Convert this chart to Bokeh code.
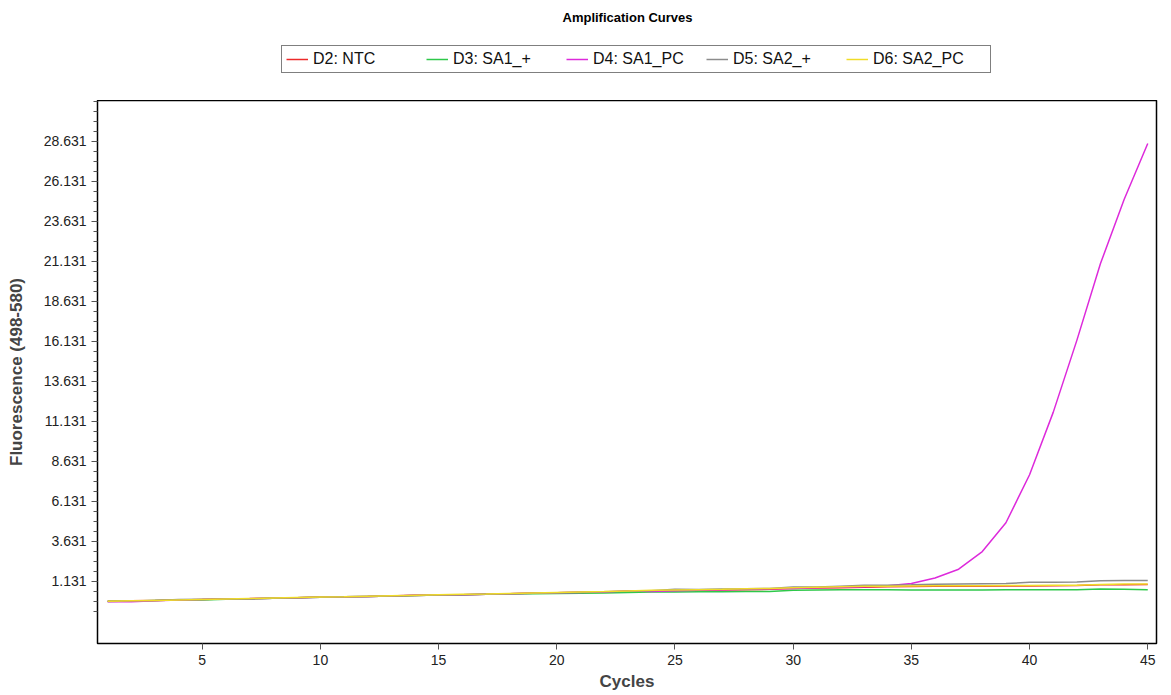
from bokeh.plotting import figure
from bokeh.layouts import column
from bokeh.models import Legend, LegendItem, FixedTicker, PrintfTickFormatter, Range1d, Label
from bokeh.embed import file_html
from bokeh.resources import INLINE

cycles = list(range(1, 46))

ntc = [-0.10, -0.08, -0.05, -0.02, 0.01, 0.03, 0.06, 0.09, 0.12, 0.16, 0.18, 0.20, 0.23, 0.26, 0.28,
       0.31, 0.34, 0.37, 0.41, 0.43, 0.46, 0.48, 0.51, 0.54, 0.56, 0.58, 0.60, 0.62, 0.64, 0.70,
       0.72, 0.74, 0.77, 0.80, 0.82, 0.83, 0.84, 0.84, 0.85, 0.85, 0.86, 0.88, 0.92, 0.93, 0.94]
sa1_pos = [-0.12, -0.09, -0.06, -0.03, -0.02, 0.02, 0.05, 0.08, 0.11, 0.14, 0.17, 0.20, 0.22, 0.25, 0.28,
           0.30, 0.33, 0.35, 0.37, 0.38, 0.39, 0.41, 0.45, 0.47, 0.48, 0.49, 0.49, 0.50, 0.51, 0.58,
           0.60, 0.61, 0.62, 0.62, 0.60, 0.60, 0.60, 0.60, 0.61, 0.61, 0.61, 0.62, 0.66, 0.65, 0.62]
sa1_pc = [-0.13, -0.14, -0.08, -0.03, 0.00, 0.06, 0.07, 0.09, 0.12, 0.15, 0.17, 0.20, 0.23, 0.28, 0.29,
          0.31, 0.34, 0.37, 0.39, 0.42, 0.45, 0.48, 0.55, 0.50, 0.55, 0.58, 0.61, 0.64, 0.67, 0.70,
          0.74, 0.77, 0.80, 0.86, 1.00, 1.35, 1.90, 3.00, 4.80, 7.80, 11.70, 16.20, 21.00, 25.00, 28.50]
sa2_pos = [-0.11, -0.08, -0.05, 0.00, 0.02, 0.03, 0.04, 0.08, 0.11, 0.14, 0.17, 0.20, 0.23, 0.26, 0.29,
           0.31, 0.34, 0.37, 0.40, 0.43, 0.46, 0.49, 0.52, 0.55, 0.64, 0.63, 0.66, 0.67, 0.70, 0.78,
           0.79, 0.84, 0.89, 0.90, 0.92, 0.96, 0.98, 0.99, 1.00, 1.08, 1.09, 1.10, 1.18, 1.19, 1.20]
sa2_pc = [-0.11, -0.08, -0.05, -0.02, 0.01, 0.04, 0.07, 0.10, 0.13, 0.16, 0.18, 0.21, 0.24, 0.27, 0.30,
          0.33, 0.35, 0.38, 0.41, 0.44, 0.47, 0.50, 0.54, 0.58, 0.60, 0.62, 0.64, 0.67, 0.70, 0.74,
          0.77, 0.80, 0.83, 0.84, 0.85, 0.86, 0.87, 0.87, 0.88, 0.88, 0.89, 0.90, 0.95, 0.97, 0.98]

series_names = ["D2: NTC", "D3: SA1_+", "D4: SA1_PC", "D5: SA2_+", "D6: SA2_PC"]
series_values = [ntc, sa1_pos, sa1_pc, sa2_pos, sa2_pc]
series_colors = ["#ec2a2a", "#2ec84a", "#dd2adb", "#8c8c8c", "#f0dc28"]

y_ticks = [1.131, 3.631, 6.131, 8.631, 11.131, 13.631, 16.131, 18.631, 21.131, 23.631, 26.131, 28.631]
x_ticks = [5, 10, 15, 20, 25, 30, 35, 40, 45]
title_text = "Amplification Curves"

FONT = "Liberation Sans"

# ---------- header (title + legend); its frame is aligned with the main frame (x 97..1156) ----------
top = figure(width=1171, height=100, output_backend="svg", toolbar_location=None, title=None,
             x_range=Range1d(100, 101), y_range=Range1d(100, 101),
             min_border_left=0, min_border_right=0, min_border_top=0, min_border_bottom=0)
top.axis.visible = False
top.grid.visible = False
top.outline_line_color = None
top.background_fill_color = "white"
top.border_fill_color = "white"

top.add_layout(Label(x=530, y=83, x_units="screen", y_units="screen", text=title_text,
                     text_font=FONT, text_font_style="bold", text_font_size="13px",
                     text_align="center", text_baseline="middle", text_color="black"))

legend_items = []
for name, vals, col in zip(series_names, series_values, series_colors):
    # same series, drawn out of this header's view; used only for the legend swatches
    r = top.line(cycles, vals, line_color=col, line_width=1.5)
    legend_items.append(LegendItem(label=name, renderers=[r]))

legend = Legend(items=legend_items, orientation="horizontal", location=(184, 27),
                border_line_color="black", border_line_width=1.5,
                background_fill_color="white", background_fill_alpha=1.0,
                padding=4, spacing=0, margin=0,
                glyph_width=22, glyph_height=14, label_height=14,
                label_width=113, label_standoff=5,
                label_text_font=FONT, label_text_font_size="16px", label_text_color="#111111")
top.add_layout(legend, "center")

# ---------- main plot ----------
p = figure(width=1171, height=595, output_backend="svg", toolbar_location=None, title=None,
           x_range=Range1d(0.57, 45.37), y_range=Range1d(-2.744, 31.19),
           min_border_left=97, min_border_right=15, min_border_top=0, min_border_bottom=52)

p.xgrid.visible = False
p.ygrid.visible = False
p.outline_line_color = "black"
p.outline_line_width = 1.5
p.background_fill_color = "white"
p.border_fill_color = "white"

for vals, col in zip(series_values, series_colors):
    p.line(cycles, vals, line_color=col, line_width=1.5)

# y axis
p.yaxis.ticker = FixedTicker(ticks=y_ticks,
                             minor_ticks=[round(1.131 - 3 * 0.625 + 0.625 * i, 4) for i in range(0, 60)])
p.yaxis.formatter = PrintfTickFormatter(format="%.3f")
p.yaxis.axis_label = "Fluorescence (498-580)"
p.yaxis.axis_label_text_font = FONT
p.yaxis.axis_label_text_font_style = "bold"
p.yaxis.axis_label_text_font_size = "17px"
p.yaxis.axis_label_standoff = 15
p.yaxis.major_label_text_font = FONT
p.yaxis.major_label_text_font_size = "14px"
p.yaxis.major_label_text_color = "#222222"
p.yaxis.major_tick_out = 6
p.yaxis.major_tick_in = 0
p.yaxis.minor_tick_out = 4
p.yaxis.minor_tick_in = 0
p.yaxis.axis_line_color = "black"
p.yaxis.major_tick_line_color = "#555555"
p.yaxis.minor_tick_line_color = "#555555"

# x axis
p.xaxis.ticker = FixedTicker(ticks=x_ticks, minor_ticks=[])
p.xaxis.axis_label = "Cycles"
p.xaxis.axis_label_text_font = FONT
p.xaxis.axis_label_text_font_style = "bold"
p.xaxis.axis_label_text_font_size = "17px"
p.xaxis.axis_label_standoff = 4
p.xaxis.major_label_text_font = FONT
p.xaxis.major_label_text_font_size = "14px"
p.xaxis.major_label_text_color = "#222222"
p.xaxis.major_tick_out = 6
p.xaxis.major_tick_in = 0
p.xaxis.minor_tick_line_color = None
p.xaxis.axis_line_color = "black"
p.xaxis.major_tick_line_color = "#555555"

layout = column(top, p, spacing=0)
open("out.html", "w").write(file_html(layout, INLINE))
